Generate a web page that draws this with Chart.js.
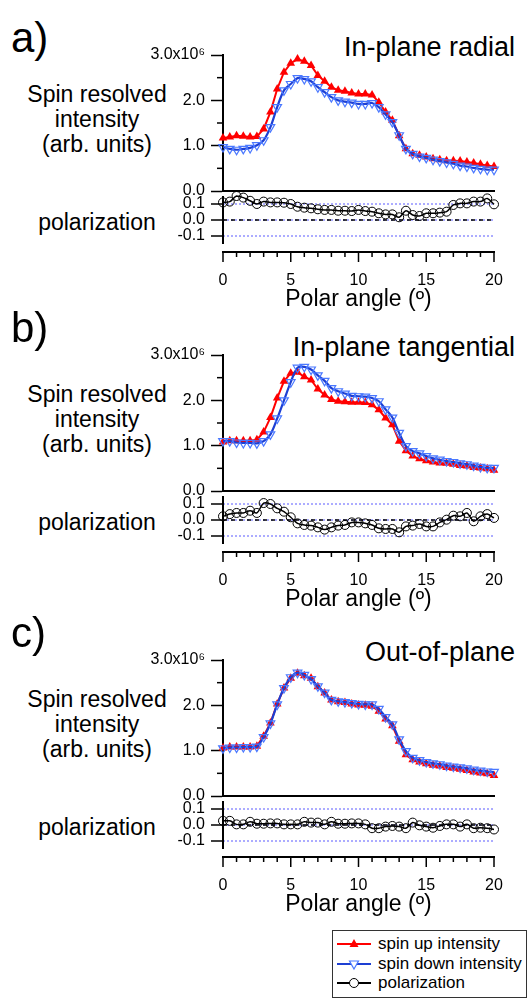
<!DOCTYPE html>
<html>
<head>
<meta charset="utf-8">
<script src="https://cdn.jsdelivr.net/npm/chart.js@4.4.1/dist/chart.umd.min.js"></script>
<style>
  html, body { margin: 0; padding: 0; background: #fff; }
  body { width: 528px; height: 998px; position: relative; overflow: hidden;
         font-family: 'Liberation Sans', Arial, sans-serif; color: #000; }
  canvas { position: absolute; left: 0; }
  .txt { position: absolute; white-space: nowrap; line-height: 1; }
  #legend { position: absolute; left: 332px; top: 930px; width: 193px; height: 66px;
            border: 1px solid #333; background: #fff; font-size: 17px; }
  #legend .row { position: absolute; left: 4px; height: 18px; line-height: 18px; white-space: nowrap; }
  #legend svg { position: absolute; left: 0; top: 2px; }
  #legend span { position: absolute; left: 41px; top: 0; }
</style>
</head>
<body>
<div id="legend"></div>
<script>
// Polar angle (deg) of every measured point
const angles = [0, 0.5, 1, 1.5, 2, 2.5, 3, 3.5, 4, 4.5, 5, 5.5, 6, 6.5, 7, 7.5, 8, 8.5, 9, 9.5,
                10, 10.5, 11, 11.5, 12, 12.5, 13, 13.5, 14, 14.5, 15, 15.5, 16, 16.5, 17, 17.5, 18, 18.5, 19, 19.5, 20];

// a) In-plane radial  (intensity in 1e6 arb. units)
const upA = [1.17, 1.19, 1.22, 1.21, 1.19, 1.20, 1.37, 1.74, 2.25, 2.62, 2.82, 2.91, 2.86, 2.77, 2.55, 2.42, 2.29, 2.22, 2.20, 2.16,
             2.14, 2.14, 2.12, 1.96, 1.74, 1.56, 1.22, 0.93, 0.82, 0.79, 0.75, 0.71, 0.69, 0.67, 0.67, 0.66, 0.64, 0.62, 0.59, 0.56, 0.54];
const downA = [0.97, 0.93, 0.91, 0.93, 0.95, 1.01, 1.12, 1.41, 1.85, 2.22, 2.36, 2.49, 2.47, 2.42, 2.29, 2.18, 2.07, 2.00, 1.97, 1.95,
               1.92, 1.92, 1.94, 1.85, 1.69, 1.52, 1.23, 0.93, 0.82, 0.76, 0.73, 0.69, 0.66, 0.63, 0.60, 0.56, 0.54, 0.51, 0.49, 0.47, 0.47];
const polA = [0.110, 0.115, 0.150, 0.140, 0.120, 0.100, 0.115, 0.110, 0.110, 0.108, 0.100, 0.083, 0.077, 0.073, 0.067, 0.063, 0.063, 0.058, 0.058, 0.056,
              0.063, 0.056, 0.052, 0.042, 0.035, 0.035, 0.017, 0.058, 0.031, 0.025, 0.042, 0.042, 0.046, 0.052, 0.094, 0.104, 0.104, 0.115, 0.115, 0.135, 0.098];

// b) In-plane tangential
const upB = [1.08, 1.11, 1.11, 1.11, 1.11, 1.13, 1.30, 1.62, 2.05, 2.42, 2.60, 2.62, 2.52, 2.45, 2.25, 2.12, 2.02, 1.98, 1.97, 1.96,
             1.96, 1.95, 1.90, 1.79, 1.61, 1.46, 1.10, 0.89, 0.77, 0.71, 0.67, 0.64, 0.62, 0.61, 0.59, 0.56, 0.55, 0.52, 0.51, 0.49, 0.46];
const downB = [1.10, 1.10, 1.07, 1.06, 1.06, 1.05, 1.10, 1.25, 1.60, 2.00, 2.40, 2.72, 2.74, 2.68, 2.55, 2.43, 2.27, 2.20, 2.15, 2.10,
               2.09, 2.08, 2.05, 1.98, 1.80, 1.62, 1.28, 0.99, 0.88, 0.83, 0.77, 0.72, 0.69, 0.66, 0.64, 0.61, 0.59, 0.56, 0.53, 0.51, 0.51];
const polB = [0.023, 0.037, 0.044, 0.044, 0.058, 0.044, 0.106, 0.100, 0.073, 0.052, 0.017, -0.021, -0.031, -0.035, -0.046, -0.060, -0.046, -0.035, -0.031, -0.015,
              -0.015, -0.021, -0.031, -0.052, -0.056, -0.056, -0.077, -0.040, -0.035, -0.025, -0.040, -0.040, -0.015, 0.002, 0.027, 0.023, 0.044, -0.008, 0.023, 0.037, 0.013];

// c) Out-of-plane
const upC = [1.06, 1.08, 1.08, 1.08, 1.08, 1.10, 1.32, 1.61, 2.03, 2.38, 2.60, 2.71, 2.65, 2.60, 2.41, 2.27, 2.12, 2.08, 2.06, 2.03,
             2.01, 2.00, 1.98, 1.87, 1.70, 1.55, 1.21, 0.91, 0.80, 0.75, 0.71, 0.68, 0.66, 0.63, 0.61, 0.59, 0.56, 0.53, 0.51, 0.49, 0.45];
const downC = [1.05, 1.07, 1.07, 1.08, 1.08, 1.09, 1.30, 1.60, 2.02, 2.38, 2.62, 2.72, 2.67, 2.58, 2.42, 2.28, 2.12, 2.09, 2.07, 2.05,
               2.03, 2.02, 2.02, 1.92, 1.74, 1.58, 1.25, 0.99, 0.84, 0.79, 0.75, 0.72, 0.70, 0.67, 0.65, 0.63, 0.61, 0.58, 0.56, 0.54, 0.53];
const polC = [0.026, 0.026, 0.004, 0.004, 0.020, 0.008, 0.008, 0.010, 0.010, 0.004, 0.004, 0.004, 0.020, 0.015, 0.015, 0.004, 0.020, 0.008, 0.008, 0.010,
              0.010, 0.004, -0.020, -0.020, -0.010, -0.006, -0.010, -0.020, 0.015, -0.002, -0.010, -0.017, -0.006, 0.004, 0.004, -0.010, 0.004, -0.020, -0.017, -0.020, -0.028];

// Tick values and labels
const intTickValues = [0, 0.5, 1, 1.5, 2, 2.5, 3];
const intTickLabels = ['0.0', '', '1.0', '', '2.0', '', '3.0x10⁶'];
const polTickValues = [-0.1, 0, 0.1];
const polTickLabels = ['-0.1', '0.0', '0.1'];
const angleTickValues = [0, 1, 2, 3, 4, 5, 6, 7, 8, 9, 10, 11, 12, 13, 14, 15, 16, 17, 18, 19, 20];
const angleTickLabels = ['0', '', '', '', '', '5', '', '', '', '', '10', '', '', '', '', '15', '', '', '', '', '20'];

const panels = [
  { tag: 'a)', title: 'In-plane radial', off: 0, tagBase: 53, up: upA, down: downA, pol: polA },
  { tag: 'b)', title: 'In-plane tangential', off: 300, tagBase: 343, up: upB, down: downB, pol: polB },
  { tag: 'c)', title: 'Out-of-plane', off: 605, tagBase: 648, up: upC, down: downC, pol: polC }
];

const POLAR_TOP = 180;   // polar canvas offset inside a panel

const FONT = "'Liberation Sans', Arial, sans-serif";
Chart.defaults.font.family = FONT;
Chart.defaults.color = '#000';

// dashed reference lines of the polarization plot
function refLines(lines) {
  return {
    id: 'refLines',
    beforeDatasetsDraw(chart) {
      const { ctx, chartArea: a } = chart;
      const y = chart.scales.y;
      ctx.save();
      lines.forEach(r => {
        const py = y.getPixelForValue(r.value);
        ctx.strokeStyle = r.color;
        ctx.lineWidth = r.width;
        ctx.setLineDash(r.dash);
        ctx.beginPath(); ctx.moveTo(a.left, py); ctx.lineTo(a.right, py); ctx.stroke();
      });
      ctx.restore();
    }
  };
}

// minor intensity ticks, plus the axes of the polarization chart below,
// drawn from that chart's scales (shifted by dy into this canvas)
function axesPlugin(polar, dy) {
  return {
    id: 'axesPlugin',
    afterDraw(chart) {
      const ctx = chart.ctx;
      const a = chart.chartArea, y = chart.scales.y;
      const pa = polar.chartArea, px = polar.scales.x, py = polar.scales.y;
      const line = (x1, y1, x2, y2) => { ctx.beginPath(); ctx.moveTo(x1, y1); ctx.lineTo(x2, y2); ctx.stroke(); };
      ctx.save();
      ctx.setLineDash([]);
      ctx.strokeStyle = '#000';
      ctx.lineWidth = 1.5;
      y.ticks.forEach(t => {
        if (t.label) return;
        const p = y.getPixelForValue(t.value);
        line(a.left - 6, p, a.left, p);
      });
      // polarization y axis
      ctx.lineWidth = 2;
      line(pa.left, py.getPixelForValue(0.15) + dy, pa.left, py.getPixelForValue(-0.15) + dy);
      ctx.lineWidth = 1.5;
      py.ticks.forEach(t => {
        const p = py.getPixelForValue(t.value) + dy;
        line(pa.left - 12, p, pa.left, p);
      });
      // polar angle axis
      const bottom = pa.bottom + dy;
      ctx.lineWidth = 2;
      line(pa.left - 1, bottom, pa.right + 1, bottom);
      ctx.lineWidth = 1.5;
      px.ticks.forEach(t => {
        const p = px.getPixelForValue(t.value);
        line(p, bottom, p, bottom + (t.label ? 10 : 5));
      });
      ctx.restore();
    }
  };
}

function pts(values) {
  return angles.map((a, i) => ({ x: a, y: values[i] }));
}

function makeCanvas(top, height) {
  const c = document.createElement('canvas');
  c.width = 528; c.height = height;
  c.style.top = top + 'px';
  document.body.appendChild(c);
  return c;
}

function addText(str, size, baseline, pos) {
  const d = document.createElement('div');
  d.className = 'txt';
  d.textContent = str;
  d.style.fontSize = size + 'px';
  d.style.top = (baseline - 0.8465 * size) + 'px';
  Object.assign(d.style, pos);
  document.body.appendChild(d);
}

const majorOnly = c => (c.tick && c.tick.label ? '#000' : 'rgba(0,0,0,0)');

panels.forEach(p => {
  const off = p.off;

  addText(p.tag, 42, p.tagBase, { left: '11px' });
  addText(p.title, 27, off + 57, { right: '13px' });
  const center = { left: '0px', width: '194px', textAlign: 'center' };
  addText('Spin resolved', 23, off + 102, center);
  addText('intensity', 23, off + 127, center);
  addText('(arb. units)', 23, off + 152, center);
  addText('polarization', 23, off + 230.5, center);

  // polarization (its axes lines are drawn by the intensity chart on top)
  const polar = new Chart(makeCanvas(off + POLAR_TOP, 136), {
    type: 'line',
    data: {
      datasets: [{
        label: 'polarization', data: pts(p.pol),
        borderColor: '#000', borderWidth: 1.5, tension: 0.3,
        pointStyle: 'circle', pointRadius: 4.5,
        pointBorderColor: '#000', pointBackgroundColor: 'rgba(255,255,255,0)', pointBorderWidth: 1,
        clip: false
      }]
    },
    options: {
      responsive: false, animation: false, events: [],
      layout: { padding: { top: 16, bottom: 0, left: 0, right: 34 } },
      plugins: { legend: { display: false }, tooltip: { enabled: false } },
      scales: {
        x: {
          type: 'linear', min: 0, max: 20,
          afterFit: s => { s.height = 64; },
          afterBuildTicks: s => { s.ticks = angleTickValues.map(v => ({ value: v })); },
          border: { display: false },
          grid: { display: false, drawTicks: true, tickLength: 10 },
          ticks: { padding: 9, autoSkip: false, maxRotation: 0, font: { size: 16 }, callback: (v, i) => angleTickLabels[i] },
          title: { display: true, text: 'Polar angle (º)', font: { size: 23 }, padding: { top: 0, bottom: 3 } }
        },
        y: {
          min: -0.2, max: 0.15,
          afterFit: s => { s.width = 223; },
          afterBuildTicks: s => { s.ticks = polTickValues.map(v => ({ value: v })); },
          border: { display: false },
          grid: { display: false, drawTicks: true, tickLength: 12 },
          ticks: { padding: 6, autoSkip: false, font: { size: 16 }, callback: (v, i) => polTickLabels[i] }
        }
      }
    },
    plugins: [refLines([
      { value: 0.1, color: '#5a5aff', width: 1, dash: [2, 2] },
      { value: -0.1, color: '#5a5aff', width: 1, dash: [2, 2] },
      { value: 0, color: '#5a5aff', width: 1, dash: [2, 2] },
      { value: 0, color: '#000', width: 1.5, dash: [4, 4] }
    ])]
  });

  // spin resolved intensity
  new Chart(makeCanvas(off, 316), {
    type: 'line',
    data: {
      datasets: [
        {
          label: 'spin down intensity', data: pts(p.down),
          borderColor: '#1d3fd3', borderWidth: 2.2, tension: 0.35,
          pointStyle: 'triangle', pointRotation: 180, pointRadius: 5,
          pointBorderColor: '#4a78ff', pointBackgroundColor: 'rgba(255,255,255,0)', pointBorderWidth: 1.2,
          clip: false
        },
        {
          label: 'spin up intensity', data: pts(p.up),
          borderColor: '#ff0000', borderWidth: 2, tension: 0,
          pointStyle: 'triangle', pointRadius: 5,
          pointBorderColor: '#ff0000', pointBackgroundColor: '#ff0000', pointBorderWidth: 0,
          clip: false
        }
      ]
    },
    options: {
      responsive: false, animation: false, events: [],
      layout: { padding: { top: 55, bottom: 125, left: 0, right: 34 } },
      plugins: { legend: { display: false }, tooltip: { enabled: false } },
      scales: {
        // only its border is shown: the 0.0 baseline
        x: {
          type: 'linear', min: 0, max: 20,
          border: { display: true, color: '#000', width: 2 },
          grid: { display: false, drawTicks: false },
          ticks: { display: false }
        },
        y: {
          min: 0, max: 3,
          afterFit: s => { s.width = 223; },
          afterBuildTicks: s => { s.ticks = intTickValues.map(v => ({ value: v })); },
          border: { display: true, color: '#000', width: 2 },
          grid: { display: true, drawOnChartArea: false, drawTicks: true, tickLength: 12, tickWidth: 1.5, tickColor: majorOnly },
          ticks: { padding: 6, autoSkip: false, font: { size: 16 }, callback: (v, i) => intTickLabels[i] }
        }
      }
    },
    plugins: [axesPlugin(polar, POLAR_TOP)]
  });
});

// legend
const legendItems = [
  { text: 'spin up intensity', color: '#ff0000', marker: '<polygon points="17,2 21.5,10 12.5,10" fill="#ff0000"/>' },
  { text: 'spin down intensity', color: '#1d3fd3', marker: '<polygon points="17,12 21.5,4 12.5,4" fill="#fff" stroke="#4a78ff" stroke-width="1.2"/>' },
  { text: 'polarization', color: '#000', marker: '<circle cx="17" cy="7" r="4.5" fill="#fff" stroke="#000" stroke-width="1"/>' }
];
const legend = document.getElementById('legend');
legendItems.forEach((it, i) => {
  const row = document.createElement('div');
  row.className = 'row';
  row.style.top = (4 + i * 19.5) + 'px';
  row.innerHTML = '<svg width="36" height="14"><line x1="0" y1="7" x2="34" y2="7" stroke="' + it.color +
    '" stroke-width="2"/>' + it.marker + '</svg><span>' + it.text + '</span>';
  legend.appendChild(row);
});
</script>
</body>
</html>
